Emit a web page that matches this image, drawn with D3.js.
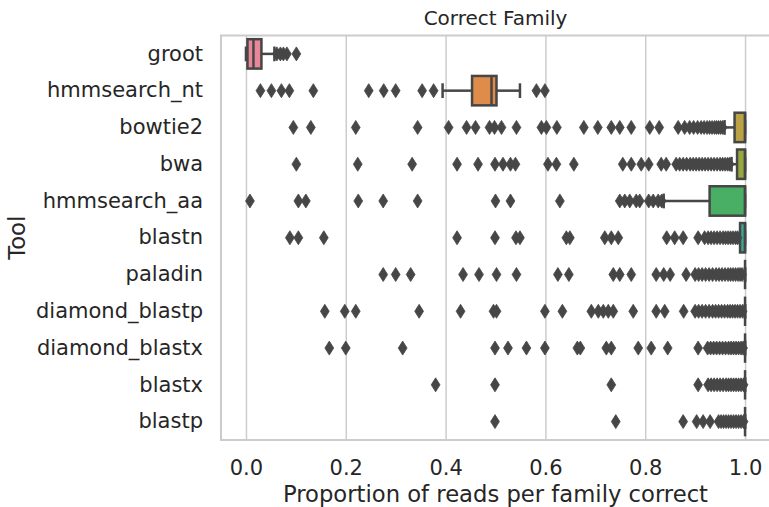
<!DOCTYPE html>
<html>
<head>
<meta charset="utf-8">
<script src="https://cdn.jsdelivr.net/npm/d3@7/dist/d3.min.js"></script>
<style>
  html, body { margin: 0; padding: 0; background: #ffffff; }
  svg { display: block; font-family: "DejaVu Sans", sans-serif; }
</style>
</head>
<body>
<svg id="chart" width="769" height="507"></svg>
<script>
// ---------------- data ----------------
const tools = ["groot", "hmmsearch_nt", "bowtie2", "bwa", "hmmsearch_aa", "blastn",
  "paladin", "diamond_blastp", "diamond_blastx", "blastx", "blastp"];

const q1Values     = [0.003, 0.453, 0.979, 0.984, 0.929, 0.990, 1.0, 1.0, 1.0, 1.0, 1.0];
const medianValues = [0.015, 0.492, 1.0,   1.0,   1.0,   1.0,   1.0, 1.0, 1.0, 1.0, 1.0];
const q3Values     = [0.031, 0.502, 1.0,   1.0,   1.0,   1.0,   1.0, 1.0, 1.0, 1.0, 1.0];
const whiskerLow   = [0.0,   0.394, 0.959, 0.973, 0.837, 0.990, 1.0, 1.0, 1.0, 1.0, 1.0];
const whiskerHigh  = [0.057, 0.549, 1.0,   1.0,   1.0,   1.0,   1.0, 1.0, 1.0, 1.0, 1.0];

const fliersGroot = [0.062, 0.069, 0.075, 0.082, 0.101];
const fliersHmmsearchNt = [0.029, 0.051, 0.071, 0.087, 0.135, 0.246, 0.276, 0.300, 0.353, 0.376, 0.582, 0.599];
const fliersBowtie2 = [0.095, 0.130, 0.220, 0.344, 0.406, 0.442, 0.460, 0.488, 0.498, 0.512, 0.542, 0.592, 0.602,
  0.623, 0.677, 0.705, 0.732, 0.749, 0.772, 0.809, 0.828, 0.866, 0.879, 0.889, 0.897, 0.905, 0.912, 0.918,
  0.924, 0.929, 0.934, 0.939, 0.943, 0.947, 0.951, 0.955];
const fliersBwa = [0.101, 0.224, 0.333, 0.423, 0.465, 0.499, 0.515, 0.530, 0.540, 0.605, 0.622, 0.657, 0.755,
  0.772, 0.792, 0.807, 0.832, 0.842, 0.862, 0.869, 0.876, 0.883, 0.890, 0.896, 0.902, 0.908, 0.914, 0.920,
  0.926, 0.932, 0.938, 0.944, 0.950, 0.955, 0.960, 0.965, 0.969];
const fliersHmmsearchAa = [0.008, 0.105, 0.120, 0.225, 0.275, 0.344, 0.500, 0.530, 0.629, 0.749, 0.759, 0.769,
  0.782, 0.789, 0.807, 0.816, 0.826, 0.833];
const fliersBlastn = [0.088, 0.105, 0.156, 0.423, 0.499, 0.541, 0.549, 0.642, 0.649, 0.719, 0.732, 0.746, 0.843,
  0.859, 0.876, 0.906, 0.919, 0.926, 0.932, 0.938, 0.944, 0.950, 0.956, 0.961, 0.966, 0.971, 0.976, 0.981, 0.985];
const fliersPaladin = [0.275, 0.300, 0.330, 0.435, 0.467, 0.502, 0.542, 0.625, 0.647, 0.736, 0.749, 0.772, 0.822,
  0.837, 0.850, 0.882, 0.900, 0.907, 0.914, 0.921, 0.928, 0.935, 0.942, 0.948, 0.954, 0.960, 0.966, 0.971,
  0.976, 0.981, 0.986, 0.990, 0.994];
const fliersDiamondBlastp = [0.158, 0.198, 0.220, 0.347, 0.430, 0.496, 0.502, 0.599, 0.634, 0.692, 0.706, 0.716,
  0.726, 0.736, 0.776, 0.822, 0.839, 0.877, 0.900, 0.907, 0.914, 0.921, 0.928, 0.935, 0.941, 0.947, 0.953,
  0.959, 0.965, 0.970, 0.975, 0.980, 0.985, 0.990, 0.995];
const fliersDiamondBlastx = [0.167, 0.200, 0.314, 0.499, 0.525, 0.562, 0.599, 0.664, 0.670, 0.722, 0.732, 0.786,
  0.812, 0.845, 0.906, 0.925, 0.931, 0.937, 0.943, 0.949, 0.955, 0.961, 0.967, 0.972, 0.977, 0.982, 0.987,
  0.992, 0.996];
const fliersBlastx = [0.380, 0.499, 0.732, 0.906, 0.926, 0.932, 0.938, 0.944, 0.950, 0.956, 0.962, 0.967, 0.972,
  0.977, 0.982, 0.987, 0.992, 0.997];
const fliersBlastp = [0.499, 0.741, 0.876, 0.903, 0.916, 0.930, 0.947, 0.952, 0.957, 0.962, 0.967, 0.972, 0.977,
  0.982, 0.987, 0.992, 0.997];

const xTicks = [0.0, 0.2, 0.4, 0.6, 0.8, 1.0];

const boxColors = ["#e8869a", "#df8c4a", "#b9a144", "#97a83e", "#48af64", "#3aaa96",
  "#3ea7b0", "#4ea0cf", "#8b93e6", "#c97de0", "#e46cbf"];

const titleText = "Correct Family";
const xLabelText = "Proportion of reads per family correct";
const yLabelText = "Tool";

// ---------------- build ----------------
const fliers = [fliersGroot, fliersHmmsearchNt, fliersBowtie2, fliersBwa, fliersHmmsearchAa, fliersBlastn,
  fliersPaladin, fliersDiamondBlastp, fliersDiamondBlastx, fliersBlastx, fliersBlastp];

const rows = tools.map((t, i) => ({
  tool: t, q1: q1Values[i], med: medianValues[i], q3: q3Values[i],
  lo: whiskerLow[i], hi: whiskerHigh[i], fliers: fliers[i], color: boxColors[i]
}));

const svg = d3.select("#chart");
const plot = { left: 221, right: 770, top: 35.5, bottom: 440 };
const gray = "#464646";
const textColor = "#262626";

const x = d3.scaleLinear().domain([-0.05, 1.05]).range([plot.left, plot.right]);
const y = d3.scaleBand().domain(tools).range([plot.top, plot.bottom]).paddingInner(0.2).paddingOuter(0.1);
const bw = y.bandwidth();

// grid
svg.append("g")
  .attr("transform", `translate(0,${plot.bottom})`)
  .call(d3.axisBottom(x).tickValues(xTicks).tickSize(-(plot.bottom - plot.top)).tickFormat(""))
  .call(g => g.select(".domain").remove())
  .call(g => g.selectAll("line").attr("stroke", "#cccccc").attr("stroke-width", 1.5));

// boxes
const g = svg.append("g");
rows.forEach(r => {
  const cy = y(r.tool) + bw / 2;
  const top = y(r.tool);
  const grp = g.append("g");
  grp.append("line").attr("x1", x(r.lo)).attr("x2", x(r.q1)).attr("y1", cy).attr("y2", cy)
    .attr("stroke", gray).attr("stroke-width", 2.5);
  grp.append("line").attr("x1", x(r.q3)).attr("x2", x(r.hi)).attr("y1", cy).attr("y2", cy)
    .attr("stroke", gray).attr("stroke-width", 2.5);
  [r.lo, r.hi].forEach(v => {
    grp.append("line").attr("x1", x(v)).attr("x2", x(v))
      .attr("y1", cy - bw / 4).attr("y2", cy + bw / 4)
      .attr("stroke", gray).attr("stroke-width", 2.5);
  });
  grp.append("rect").attr("x", x(r.q1)).attr("y", top)
    .attr("width", Math.max(0, x(r.q3) - x(r.q1))).attr("height", bw)
    .attr("fill", r.color).attr("stroke", gray).attr("stroke-width", 2.5);
  grp.append("line").attr("x1", x(r.med)).attr("x2", x(r.med))
    .attr("y1", top).attr("y2", top + bw)
    .attr("stroke", gray).attr("stroke-width", 2.5);
  grp.selectAll("path.flier").data(r.fliers).join("path")
    .attr("class", "flier")
    .attr("d", d => `M${x(d)},${cy - 7}L${x(d) + 4.4},${cy}L${x(d)},${cy + 7}L${x(d) - 4.4},${cy}Z`)
    .attr("fill", gray).attr("stroke", gray).attr("stroke-width", 0.8);
});

// spines
svg.append("rect")
  .attr("x", plot.left).attr("y", plot.top)
  .attr("width", plot.right - plot.left).attr("height", plot.bottom - plot.top)
  .attr("fill", "none").attr("stroke", "#cccccc").attr("stroke-width", 2);

// x axis labels
const xa = svg.append("g")
  .attr("transform", `translate(0,${plot.bottom})`)
  .call(d3.axisBottom(x).tickValues(xTicks).tickSize(0).tickPadding(20).tickFormat(d3.format(".1f")));
xa.select(".domain").remove();
xa.selectAll("text").attr("font-size", 21).attr("fill", textColor).attr("font-family", "DejaVu Sans");

// y axis labels
const ya = svg.append("g")
  .attr("transform", `translate(${plot.left},0)`)
  .call(d3.axisLeft(y).tickSize(0).tickPadding(18));
ya.select(".domain").remove();
ya.selectAll("text").attr("font-size", 21).attr("fill", textColor).attr("font-family", "DejaVu Sans");

// titles
svg.append("text").attr("x", (plot.left + plot.right) / 2).attr("y", 25)
  .attr("text-anchor", "middle").attr("font-size", 20).attr("fill", textColor).text(titleText);
svg.append("text").attr("x", (plot.left + plot.right) / 2).attr("y", 502)
  .attr("text-anchor", "middle").attr("font-size", 22.7).attr("fill", textColor).text(xLabelText);
svg.append("text").attr("transform", `translate(25,${(plot.top + plot.bottom) / 2}) rotate(-90)`)
  .attr("text-anchor", "middle").attr("font-size", 22.7).attr("fill", textColor).text(yLabelText);
</script>
</body>
</html>
